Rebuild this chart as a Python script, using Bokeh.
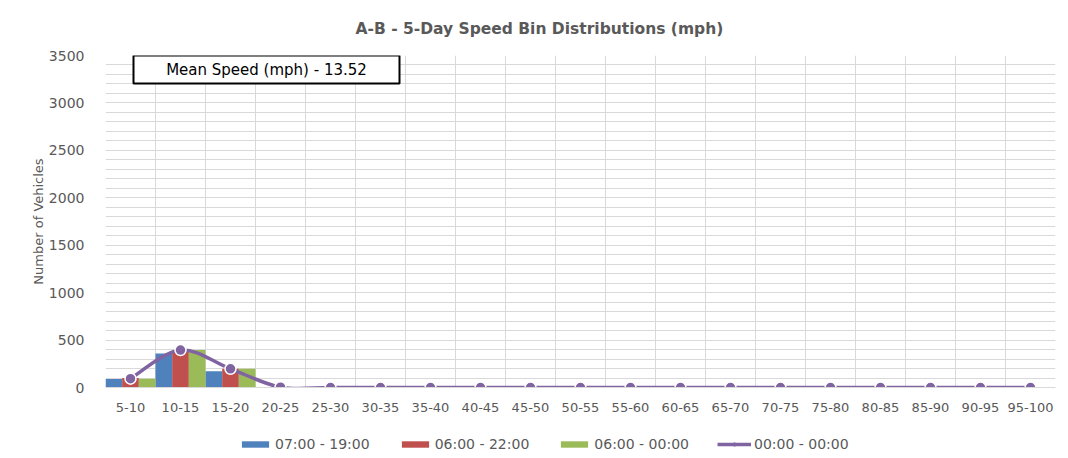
import numpy as np
from bokeh.plotting import figure
from bokeh.layouts import column
from bokeh.models import (Range1d, FixedTicker, SingleIntervalTicker, Label, BoxAnnotation,
                          Legend, LegendItem, ColumnDataSource, Title)
from bokeh.embed import file_html
from bokeh.resources import INLINE

# ---------------- data ----------------
categories = ["5-10", "10-15", "15-20", "20-25", "25-30", "30-35", "35-40", "40-45", "45-50",
              "50-55", "55-60", "60-65", "65-70", "70-75", "75-80", "80-85", "85-90", "90-95", "95-100"]
series_names = ["07:00 - 19:00", "06:00 - 22:00", "06:00 - 00:00", "00:00 - 00:00"]
vals_0719 = [90, 358, 172, 2, 0, 0, 0, 0, 0, 0, 0, 0, 0, 0, 0, 0, 0, 0, 0]
vals_0622 = [100, 388, 197, 3, 0, 0, 0, 0, 0, 0, 0, 0, 0, 0, 0, 0, 0, 0, 0]
vals_0600 = [92, 395, 197, 3, 0, 0, 0, 0, 0, 0, 0, 0, 0, 0, 0, 0, 0, 0, 0]
vals_0000 = [93, 395, 197, 3, 0, 0, 0, 0, 0, 0, 0, 0, 0, 0, 0, 0, 0, 0, 0]
title_text = "A-B - 5-Day Speed Bin Distributions (mph)"
mean_text = "Mean Speed (mph) - 13.52"
y_label = "Number of Vehicles"

# ---------------- styling ----------------
FONT = "DejaVu Sans"
TXT = "#595959"
GRID = "#D9D9D9"
COLORS = ["#4F81BD", "#C0504D", "#9BBB59", "#8064A2"]

n = len(categories)
xc = [i + 0.5 for i in range(n)]

p = figure(width=1060, height=427, output_backend="svg", toolbar_location=None,
           x_range=Range1d(0, n), y_range=Range1d(0, 3500),
           min_border_left=105, min_border_right=5, min_border_top=55, min_border_bottom=40)
p.outline_line_color = None
p.background_fill_color = "white"
p.border_fill_color = "white"

# title
p.add_layout(Title(text=title_text, align="left", offset=250, standoff=35,
                   text_font=FONT, text_font_size="15.5px", text_font_style="bold",
                   text_color=TXT), "above")

# grids
p.xgrid.ticker = FixedTicker(ticks=list(range(0, n + 1)))
p.xgrid.grid_line_color = GRID
p.ygrid.ticker = SingleIntervalTicker(interval=500, num_minor_ticks=5)
p.ygrid.grid_line_color = GRID
p.ygrid.minor_grid_line_color = GRID

# axes
p.xaxis.ticker = FixedTicker(ticks=xc)
p.xaxis.major_label_overrides = {x: c for x, c in zip(xc, categories)}
p.xaxis.major_tick_line_color = None
p.xaxis.minor_tick_line_color = None
p.xaxis.axis_line_color = GRID
p.xaxis.major_label_standoff = 9
p.xaxis.major_label_text_font = FONT
p.xaxis.major_label_text_font_size = "13px"
p.xaxis.major_label_text_color = TXT

p.yaxis.ticker = SingleIntervalTicker(interval=500, num_minor_ticks=5)
p.yaxis.major_tick_line_color = None
p.yaxis.minor_tick_line_color = None
p.yaxis.axis_line_color = None
p.yaxis.major_label_standoff = 15
p.yaxis.major_label_text_font = FONT
p.yaxis.major_label_text_font_size = "14px"
p.yaxis.major_label_text_color = TXT
p.yaxis.axis_label = y_label
p.yaxis.axis_label_text_font = FONT
p.yaxis.axis_label_text_font_size = "13px"
p.yaxis.axis_label_text_font_style = "normal"
p.yaxis.axis_label_text_color = TXT
p.yaxis.axis_label_standoff = 0

# bars
src = ColumnDataSource(dict(x=xc, a=vals_0719, b=vals_0622, c=vals_0600, d=vals_0000))
bw = 1.0 / 3
for k, col in enumerate(["a", "b", "c"]):
    p.vbar(x=[x + (k - 1) * bw for x in xc], top=src.data[col], width=bw,
           fill_color=COLORS[k], line_color=None)

# smoothed line (Catmull-Rom -> cubic Bezier) through the data points
ys = vals_0000
x0s, y0s, x1s, y1s, cx0, cy0, cx1, cy1 = [], [], [], [], [], [], [], []
for i in range(n - 1):
    pxm, pym = (xc[i - 1], ys[i - 1]) if i > 0 else (xc[i], ys[i])
    px1, py1 = xc[i], ys[i]
    px2, py2 = xc[i + 1], ys[i + 1]
    pxp, pyp = (xc[i + 2], ys[i + 2]) if i + 2 < n else (xc[i + 1], ys[i + 1])
    x0s.append(px1); y0s.append(py1); x1s.append(px2); y1s.append(py2)
    cx0.append(px1 + (px2 - pxm) / 6.0); cy0.append(py1 + (py2 - pym) / 6.0)
    cx1.append(px2 - (pxp - px1) / 6.0); cy1.append(py2 - (pyp - py1) / 6.0)
p.bezier(x0=x0s, y0=y0s, x1=x1s, y1=y1s, cx0=cx0, cy0=cy0, cx1=cx1, cy1=cy1,
         line_color=COLORS[3], line_width=3.5)
p.scatter(x=xc, y=ys, size=11, marker="circle", fill_color=COLORS[3],
          line_color="white", line_width=1.5)

# mean speed box
p.add_layout(BoxAnnotation(left=28, right=294, top=332, bottom=304,
                           left_units="screen", right_units="screen",
                           top_units="screen", bottom_units="screen",
                           fill_color="white", fill_alpha=1.0,
                           line_color="black", line_width=2, line_alpha=1.0))
p.add_layout(Label(x=161, y=318, x_units="screen", y_units="screen", text=mean_text,
                   text_align="center", text_baseline="middle", text_font=FONT,
                   text_font_size="15px", text_color="black"))

# ---------------- legend strip (separate figure below the chart) ----------------
lg = figure(width=1060, height=31, output_backend="svg", toolbar_location=None,
            x_range=Range1d(0, 1), y_range=Range1d(0, 1),
            x_axis_type=None, y_axis_type=None,
            min_border_left=105, min_border_right=5, min_border_top=0, min_border_bottom=0)
lg.grid.visible = False
lg.outline_line_color = None
lg.border_fill_color = "white"
lg.background_fill_color = "white"
nan1 = np.array([np.nan])
nan2 = np.array([np.nan, np.nan])
proxy = []
for k in range(3):
    proxy.append(lg.vbar(x=nan1, top=nan1, width=0.5, fill_color=COLORS[k], line_color=None))
ln = lg.line(x=nan2, y=nan2, line_color=COLORS[3], line_width=3.5)
mk = lg.scatter(x=nan1, y=nan1, size=9, marker="circle", fill_color=COLORS[3],
                line_color=COLORS[3], line_width=1)
legend = Legend(items=[LegendItem(label=series_names[0], renderers=[proxy[0]]),
                       LegendItem(label=series_names[1], renderers=[proxy[1]]),
                       LegendItem(label=series_names[2], renderers=[proxy[2]]),
                       LegendItem(label=series_names[3], renderers=[ln, mk])],
                orientation="horizontal", location=(133, 6),
                glyph_width=34, glyph_height=8, label_height=16, label_standoff=3,
                spacing=28, padding=0, margin=0,
                label_text_font=FONT, label_text_font_size="14px", label_text_color=TXT,
                border_line_color=None, background_fill_alpha=0)
lg.add_layout(legend, "center")

open("out.html", "w").write(file_html(column(p, lg, spacing=0), INLINE))
